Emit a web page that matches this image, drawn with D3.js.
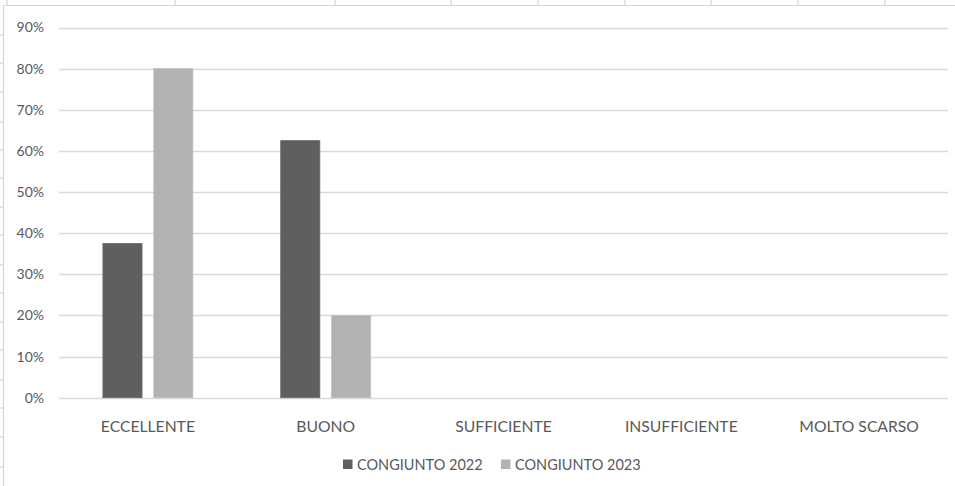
<!DOCTYPE html>
<html>
<head>
<meta charset="utf-8">
<script src="https://cdn.jsdelivr.net/npm/d3@7"></script>
<style>
  html, body { margin: 0; padding: 0; background: #fff; }
  svg { display: block; }
  text { font-family: Lato, "Open Sans", sans-serif; fill: #595959; }
</style>
</head>
<body>
<svg id="chart" width="955" height="486"></svg>
<script>
// Rating categories and share of responses per year
const categories = ["ECCELLENTE", "BUONO", "SUFFICIENTE", "INSUFFICIENTE", "MOLTO SCARSO"];
const seriesNames = ["CONGIUNTO 2022", "CONGIUNTO 2023"];
const values2022 = [0.375, 0.625, 0, 0, 0];
const values2023 = [0.80, 0.20, 0, 0, 0];
const yTicks = [0, 0.1, 0.2, 0.3, 0.4, 0.5, 0.6, 0.7, 0.8, 0.9];

const colors = ["#5f5f5f", "#b2b2b2"];
const series = [values2022, values2023];

const W = 955, H = 486;
const svg = d3.select("#chart");

// Worksheet cell grid visible around the chart object
const sheet = svg.append("g").attr("stroke", "#d4d4d4").attr("stroke-width", 1.2);
const colEdges = [7, 175, 335, 451, 538, 625, 711, 798, 885];
const rowEdges = [35, 63, 92, 122, 150, 178, 207, 235, 265, 293, 322, 350, 380, 408, 437, 467];
colEdges.forEach(x => sheet.append("line").attr("x1", x).attr("x2", x).attr("y1", 0).attr("y2", 5));
rowEdges.forEach(y => sheet.append("line").attr("x1", 0).attr("x2", 3).attr("y1", y).attr("y2", y));
sheet.append("line").attr("x1", 3.5).attr("x2", W).attr("y1", 5.5).attr("y2", 5.5);
sheet.append("line").attr("x1", 3.5).attr("x2", 3.5).attr("y1", 5.5).attr("y2", H);

// Plot area
const x0 = d3.scaleBand().domain(categories).range([59, 948]);
const y = d3.scaleLinear().domain([0, 0.9]).range([397.7, 27.5]);
const barW = x0.bandwidth() * 0.22;
const barGap = barW * 0.3;

// Horizontal gridlines
svg.append("g")
  .selectAll("line")
  .data(yTicks)
  .join("line")
  .attr("x1", 59).attr("x2", 948)
  .attr("y1", d => Math.round(y(d)) + 0.5)
  .attr("y2", d => Math.round(y(d)) + 0.5)
  .attr("stroke", "#d9d9d9")
  .attr("stroke-width", 1.3);

// Y axis labels
const yAxis = d3.axisLeft(y).tickValues(yTicks).tickFormat(d3.format(".0%")).tickSize(0).tickPadding(0);
const gy = svg.append("g").attr("transform", "translate(44,0)").call(yAxis);
gy.select(".domain").remove();
gy.selectAll("text").style("font-family", "Lato, sans-serif").style("font-size", "14px").attr("fill", "#595959");

// Bars
series.forEach((vals, si) => {
  svg.append("g")
    .selectAll("rect")
    .data(categories.map((c, i) => ({ c, v: vals[i] })).filter(d => d.v > 0))
    .join("rect")
    .attr("x", d => x0(d.c) + x0.bandwidth() / 2 - barW - barGap / 2 + si * (barW + barGap))
    .attr("y", d => y(d.v))
    .attr("width", barW)
    .attr("height", d => y(0) - y(d.v))
    .attr("fill", colors[si])
    .attr("stroke", si === 0 ? "#6a6a6a" : "#c0c0c0")
    .attr("stroke-width", 0.8);
});

// Category labels
const xAxis = d3.axisBottom(x0).tickSize(0).tickPadding(0);
const gx = svg.append("g").attr("transform", "translate(0,432)").call(xAxis);
gx.select(".domain").remove();
gx.selectAll("text")
  .attr("y", 0).attr("dy", 0)
  .style("font-family", "Lato, sans-serif").style("font-size", "15.7px").attr("fill", "#595959");

// Legend
const legendItems = [
  { name: seriesNames[0], color: colors[0], x: 343 },
  { name: seriesNames[1], color: colors[1], x: 501 }
];
const lg = svg.append("g");
legendItems.forEach(it => {
  lg.append("rect").attr("x", it.x).attr("y", 459.5).attr("width", 9.5).attr("height", 9.5).attr("fill", it.color);
  lg.append("text").attr("x", it.x + 14).attr("y", 470).style("font-size", "14.5px").text(it.name);
});
</script>
</body>
</html>
